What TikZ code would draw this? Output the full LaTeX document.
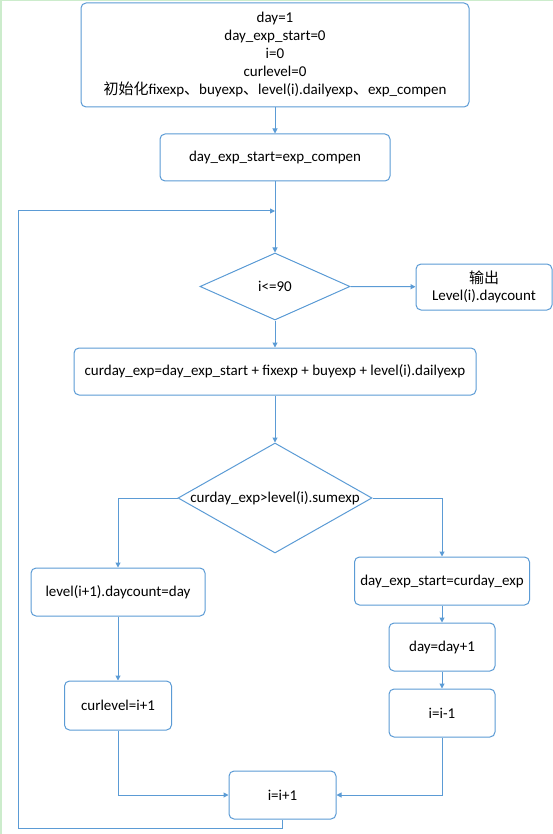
\documentclass[tikz,border=0pt]{standalone}
\usepackage{fontspec}
\setmainfont{Carlito}
\newfontfamily\cjk{Noto Sans CJK SC}
\usetikzlibrary{shapes.geometric,arrows.meta}

\definecolor{boxblue}{RGB}{91,155,213}
\definecolor{edgegreen}{RGB}{204,236,204}

\tikzset{every picture/.style={line width=1pt}}
\tikzset{
  proc/.style={draw=boxblue,rounded corners=5pt,fill=white,inner sep=0pt,align=center,font=\fontsize{15}{18}\selectfont},
  cond/.style={draw=boxblue,diamond,inner sep=0pt,font=\fontsize{15}{18}\selectfont},
  arr/.style={draw=boxblue,-{Triangle[width=5pt,length=5pt]}},
  flow/.style={draw=boxblue}
}

\begin{document}
\begin{tikzpicture}[x=1pt,y=1pt,yscale=-1,xscale=1]
\useasboundingbox (0,0) rectangle (553,834);
%page edge
\draw [edgegreen,line width=1.5pt] (0.75,834) -- (0.75,0.75) -- (553,0.75);

% Boxes
\node [proc,minimum width=388pt,minimum height=104pt] (init) at (275,55) {day=1\\day\_exp\_start=0\\i=0\\curlevel=0\\{\cjk 初始化}fixexp{\cjk 、}buyexp{\cjk 、}level(i).dailyexp{\cjk 、}exp\_compen};
\node [proc,minimum width=230pt,minimum height=47pt] (start) at (275,157.5) {day\_exp\_start=exp\_compen};
\node [cond,minimum width=150pt,minimum height=67pt] (c1) at (275,286.5) {\makebox[0pt]{i<=90}};
\node [proc,minimum width=136pt,minimum height=46pt,font=\fontsize{15}{17}\selectfont] (out) at (484,287) {{\cjk 输出}\\Level(i).daycount};
\node [proc,minimum width=402pt,minimum height=47pt] (calc) at (275,371.5) {curday\_exp=day\_exp\_start + fixexp + buyexp + level(i).dailyexp};
\node [cond,minimum width=194pt,minimum height=110pt] (c2) at (275,498) {\makebox[0pt]{curday\_exp>level(i).sumexp}};
\node [proc,minimum width=174pt,minimum height=48pt] (lvl) at (118,592) {level(i+1).daycount=day};
\node [proc,minimum width=107pt,minimum height=49pt] (cur) at (118,705.5) {curlevel=i+1};
\node [proc,minimum width=175pt,minimum height=48pt] (set) at (442,581) {day\_exp\_start=curday\_exp};
\node [proc,minimum width=106pt,minimum height=48pt] (day) at (442,647) {day=day+1};
\node [proc,minimum width=106pt,minimum height=48pt] (dec) at (442,713) {i=i-1};
\node [proc,minimum width=107pt,minimum height=48pt] (inc) at (282.5,795) {i=i+1};

\coordinate (loopin) at (275,211);
\coordinate (loopbl) at (18,828);

% Connectors
\draw [arr] (init) -- (start);
\draw [arr] (start) -- (c1);
\draw [arr] (c1.east) -- (out);
\draw [arr] (c1) -- (calc);
\draw [arr] (calc) -- (c2);
\draw [arr] (c2.west) -| (lvl);
\draw [arr] (lvl) -- (cur);
\draw [arr] (cur) |- (inc);
\draw [arr] (c2.east) -| (set);
\draw [arr] (set) -- (day);
\draw [arr] (day) -- (dec);
\draw [arr] (dec) |- (inc);
\draw [arr] (inc.south) |- (loopbl) |- (loopin);

\end{tikzpicture}
\end{document}
